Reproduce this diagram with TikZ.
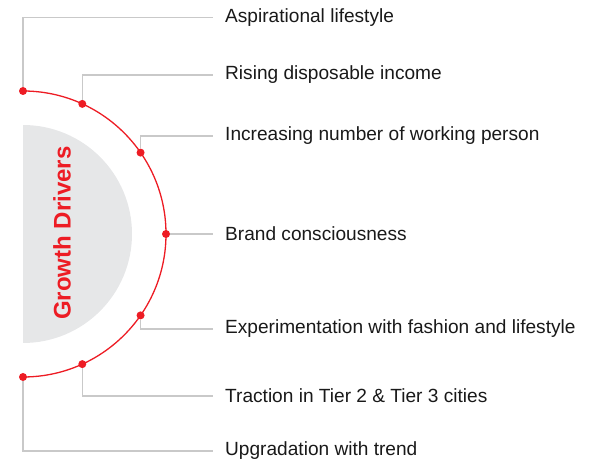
\documentclass[tikz,border=0pt]{standalone}
\usepackage{fontspec}
\setmainfont{Liberation Sans}
\usepackage{tikz}
\usetikzlibrary{positioning,calc}
\definecolor{gdred}{HTML}{ED1C24}
\definecolor{gdgray}{HTML}{E6E7E8}
\definecolor{gdline}{HTML}{C9C9C9}

\begin{document}
\begin{tikzpicture}[x=1pt,y=1pt,
  font=\fontsize{19.1}{21}\selectfont,
  dot/.style={circle,fill=gdred,inner sep=0pt,minimum size=8pt},
  lbl/.style={anchor=west,inner xsep=12pt,inner ysep=0pt,text=black!90},
  ln/.style={draw=gdline,line width=1.2pt}]
\useasboundingbox (0,0) rectangle (608,460);
\coordinate (c) at (23,226);
\fill[gdgray] (23,335) arc[start angle=90,end angle=-90,radius=109] -- cycle;
\node[rotate=90,text=gdred,font=\fontsize{24}{25}\selectfont\bfseries] (title) at (62,227) {Growth Drivers};
\draw[gdred,line width=1.3pt] (23,369) arc[start angle=90,end angle=-90,radius=143];
\node[dot] (d1) at ($(c)+(90:143)$) {};
\node[dot] (d2) at ($(c)+(65.5:143)$) {};
\node[dot] (d3) at ($(c)+(34.7:143)$) {};
\node[dot] (d4) at ($(c)+(0:143)$) {};
\node[dot] (d5) at ($(c)+(-34.7:143)$) {};
\node[dot] (d6) at ($(c)+(-65.5:143)$) {};
\node[dot] (d7) at ($(c)+(-90:143)$) {};
\node[lbl] (l1) at (213,442.5) {Aspirational lifestyle};
\node[lbl] (l2) at (213,385) {Rising disposable income};
\node[lbl] (l3) at (213,324) {Increasing number of working person};
\node[lbl] (l4) at (213,226) {Brand consciousness};
\node[lbl] (l5) at (213,131) {Experimentation with fashion and lifestyle};
\node[lbl] (l6) at (213,64) {Traction in Tier 2 \& Tier 3 cities};
\node[lbl] (l7) at (213,9) {Upgradation with trend};
\draw[ln](d1)|-(l1.west);\draw[ln](d2)|-(l2.west);\draw[ln](d3)|-(l3.west);
\draw[ln](d4)--(l4.west);
\draw[ln](d5)|-(l5.west);\draw[ln](d6)|-(l6.west);\draw[ln](d7)|-(l7.west);
\end{tikzpicture}
\end{document}
